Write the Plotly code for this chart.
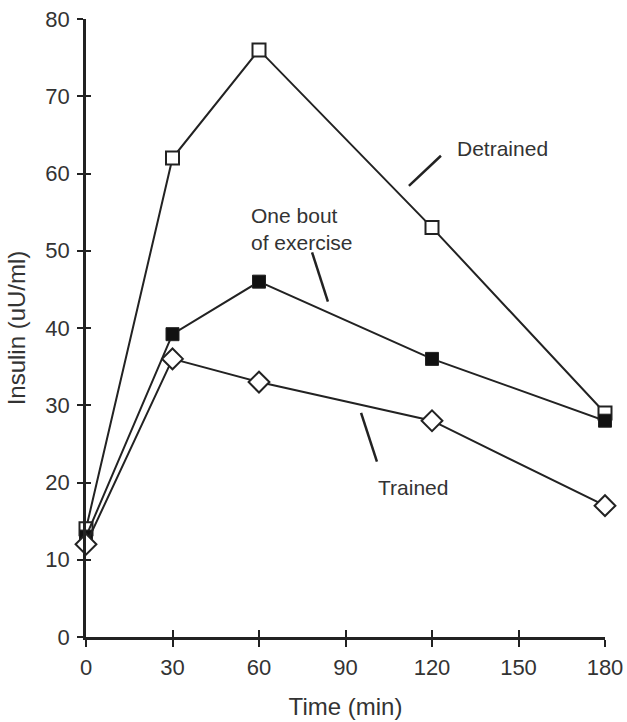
import plotly.graph_objects as go

time_min = [0, 30, 60, 120, 180]
detrained = [14, 62, 76, 53, 29]
one_bout = [13, 39.2, 46, 36, 28]
trained = [12, 36, 33, 28, 17]

x_ticks = [0, 30, 60, 90, 120, 150, 180]
y_ticks = [0, 10, 20, 30, 40, 50, 60, 70, 80]

# series labels with their leader lines (data coords)
labels = ["Detrained", "One bout<br>of exercise", "Trained"]
label_x = [144.6, 56.5, 113.4]
label_y = [63.3, 52.8, 19.4]
label_anchor = ["center", "left", "center"]
leader_x0 = [112.0, 78.4, 95.4]
leader_y0 = [58.4, 49.8, 29.0]
leader_x1 = [123.1, 83.9, 100.9]
leader_y1 = [62.3, 43.4, 22.7]

ink = "#222222"
fam = "Liberation Sans, Arial, sans-serif"
tick_font = dict(family=fam, size=22, color="#333333")
title_font = dict(family=fam, size=24, color="#333333")
note_font = dict(family=fam, size=21, color="#333333")

fig = go.Figure()
fig.add_trace(go.Scatter(
    x=time_min, y=detrained, mode="lines+markers", cliponaxis=False,
    line=dict(color=ink, width=2),
    marker=dict(symbol="square", size=13, color="white", line=dict(color=ink, width=2)),
))
fig.add_trace(go.Scatter(
    x=time_min, y=one_bout, mode="lines+markers", cliponaxis=False,
    line=dict(color=ink, width=2),
    marker=dict(symbol="square", size=13, color="#111111", line=dict(color=ink, width=1)),
))
fig.add_trace(go.Scatter(
    x=time_min, y=trained, mode="lines+markers", cliponaxis=False,
    line=dict(color=ink, width=2),
    marker=dict(symbol="diamond", size=16, color="white", line=dict(color=ink, width=2)),
))
# invisible trace so the overlay axes (inner half of the crossing ticks) get drawn
fig.add_trace(go.Scatter(x=[0], y=[0], xaxis="x2", yaxis="y2", mode="markers",
                         marker=dict(opacity=0), hoverinfo="skip"))

for i in range(len(labels)):
    fig.add_annotation(x=label_x[i], y=label_y[i], text=labels[i], showarrow=False,
                       xanchor=label_anchor[i], align="left", font=note_font)
    fig.add_shape(type="line", x0=leader_x0[i], y0=leader_y0[i], x1=leader_x1[i], y1=leader_y1[i],
                  line=dict(color=ink, width=2.5))

axis_common = dict(showgrid=False, zeroline=False, linecolor=ink, linewidth=2.5,
                   tickcolor=ink, tickwidth=2, tickfont=tick_font, automargin=False,
                   ticklabeloverflow="allow")
fig.update_layout(
    width=627, height=722,
    margin=dict(l=86, r=22, t=19, b=85),
    paper_bgcolor="white", plot_bgcolor="white",
    showlegend=False,
    xaxis=dict(range=[0, 180], tickvals=x_ticks, showline=True, ticks="outside", ticklen=7,
               ticklabelstandoff=2,
               title=dict(text="Time (min)", font=title_font, standoff=20), **axis_common),
    yaxis=dict(range=[0, 80], tickvals=y_ticks, showline=True, ticks="outside", ticklen=6,
               ticklabelstandoff=3,
               title=dict(text="Insulin (uU/ml)", font=title_font, standoff=13), **axis_common),
    xaxis2=dict(range=[0, 180], tickvals=x_ticks, overlaying="x", side="bottom", anchor="y2",
                showline=False, ticks="inside", ticklen=7, showticklabels=False,
                showgrid=False, zeroline=False, tickcolor=ink, tickwidth=2),
    yaxis2=dict(range=[0, 80], tickvals=y_ticks, overlaying="y", side="left", anchor="x2",
                showline=False, ticks="inside", ticklen=5, showticklabels=False,
                showgrid=False, zeroline=False, tickcolor=ink, tickwidth=2),
)

# drop the default 8px page margin so the 627x722 figure fills the window exactly
fig.write_html("out.html", config={"displayModeBar": False},
               post_script="document.body.style.margin='0';")
